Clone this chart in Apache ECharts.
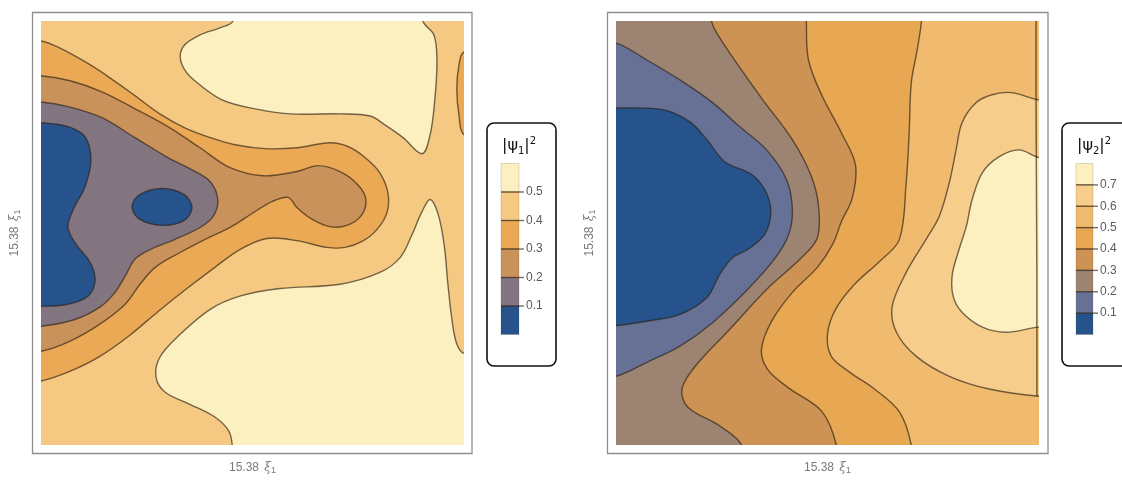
<!DOCTYPE html>
<html>
<head>
<meta charset="utf-8">
<script src="https://cdn.jsdelivr.net/npm/echarts@6/dist/echarts.min.js"></script>
<style>
  html, body { margin: 0; padding: 0; background: #ffffff; }
  #chart { width: 1122px; height: 480px; }
</style>
</head>
<body>
<div id="chart"></div>
<script>
// Contour levels and band colours, lowest band first
const psi1Levels = [0.1, 0.2, 0.3, 0.4, 0.5];
const psi1Colors = ['#26538b', '#827580', '#c9925a', '#eba955', '#f5c982', '#fdf0c0'];
const psi2Levels = [0.1, 0.2, 0.3, 0.4, 0.5, 0.6, 0.7];
const psi2Colors = ['#26538b', '#677196', '#9d8372', '#cd9355', '#e8a752', '#f0bb6e', '#f6cd8b', '#fdf0c0'];

// |psi1|^2 contour lines in the (xi, xi) plane, both axes scaled 0..100
const psi1CreamTop = [[45.4,100],[42.3,98.4],[37.6,96.7],[34.0,94.4],[32.9,91.5],[34.3,88.0],[37.6,84.9],[42.8,81.4],[49.4,79.5],[58.9,78.1],[70.7,78.1],[77.8,77.6],[81.3,75.5],[85.6,72.5],[90.1,68.7],[92.0,73.2],[93.1,81.4],[93.6,90.8],[92.9,96.7],[90.3,100]];
const psi1RightLens = [[100,92.7],[98.8,89.6],[98.3,83.8],[98.8,77.9],[100,73.2]];
const psi1CreamBottom = [[45.2,0],[44.4,3.3],[41.1,6.6],[35.2,9.6],[29.3,12.5],[27.2,16.0],[28.1,20.7],[32.9,26.1],[40.0,32.0],[47.0,35.1],[56.5,36.9],[70.7,37.9],[80.1,40.7],[84.9,44.2],[87.7,49.6],[90.1,55.1],[92.0,57.9],[93.9,54.4],[95.3,47.3],[96.2,37.9],[97.2,29.2],[98.3,23.8],[100,21.6]];
const psi1Below04 = [[0,95.3],[4.5,93.6],[10.9,90.1],[16.3,86.6],[22.2,82.4],[28.1,78.1],[34.0,74.8],[40.0,72.5],[45.9,70.8],[53.0,69.9],[60.5,70.1],[68.3,71.3],[72.6,70.4],[76.6,67.8],[80.1,64.2],[82.0,59.5],[81.8,54.8],[79.4,50.8],[75.9,48.0],[71.9,46.6],[67.6,46.6],[60.5,48.2],[53.4,48.7],[47.0,46.1],[41.1,41.9],[34.5,36.9],[27.7,31.5],[21.0,25.9],[13.9,20.9],[6.9,17.4],[0,15.1]];
const psi1Below03 = [[0,87.1],[6.9,85.9],[14.4,83.3],[22.2,79.3],[30.0,75.1],[37.6,70.1],[44.7,65.4],[52.5,63.5],[60.5,64.5],[65.5,65.9],[70.7,64.5],[74.9,61.4],[76.8,57.9],[75.7,54.1],[72.3,51.8],[68.3,51.5],[63.8,53.4],[60.5,56.0],[58.4,58.4],[54.6,57.4],[49.9,54.6],[44.7,51.3],[38.8,48.5],[32.9,45.4],[27.0,41.9],[23.4,37.9],[19.9,33.2],[13.9,28.5],[6.9,24.5],[0,22.1]];
const psi1Below02 = [[0,80.9],[6.4,79.8],[14.4,77.2],[22.2,72.5],[30.0,67.8],[35.7,64.9],[40.0,62.1],[41.8,57.9],[40.7,53.9],[37.6,51.3],[31.7,48.5],[25.8,46.1],[22.2,43.8],[20.1,40.2],[17.5,36.0],[13.9,32.5],[8.0,29.6],[0,28.0]];
const psi1Below01Edge = [[0,76.0],[6.4,75.1],[10.4,72.7],[11.8,67.3],[10.4,60.9],[7.6,55.5],[6.4,51.3],[8.3,47.3],[11.6,43.1],[12.8,38.8],[11.1,35.1],[6.4,33.2],[0,32.7]];
const psi1Below01Island = [[21.5,56.2],[23.4,59.1],[28.6,60.5],[33.8,59.1],[35.7,56.0],[33.8,52.9],[28.6,51.8],[23.4,53.2]];

// |psi2|^2 contour lines, same scaling
const psi2Above06 = [[100,81.4],[93.6,83.1],[88.9,82.6],[85.1,80.7],[81.8,76.0],[80.4,69.6],[78.8,61.9],[76.4,53.9],[73.3,48.5],[68.6,40.7],[65.3,32.7],[66.3,26.6],[71.0,20.9],[78.8,16.2],[88.2,13.2],[100,11.5]];
const psi2Above07 = [[100,67.8],[95.3,69.6],[90.6,68.0],[86.6,64.2],[84.2,57.9],[82.8,51.5],[81.1,46.1],[79.5,40.2],[79.7,35.1],[81.8,31.3],[86.6,27.8],[92.2,26.6],[100,27.8]];
const psi2Below05 = [[72.2,100],[71.2,93.2],[69.8,85.4],[69.3,73.6],[68.6,61.9],[67.0,48.5],[62.3,43.3],[56.4,37.9],[51.9,32.0],[50.0,26.1],[50.9,20.9],[55.2,17.2],[61.1,13.2],[67.0,7.8],[69.8,0]];
const psi2Below04 = [[45.0,100],[45.5,90.8],[48.6,82.6],[53.3,73.6],[56.6,66.1],[55.9,58.4],[53.3,52.7],[51.2,47.3],[47.6,41.9],[41.7,36.0],[36.8,29.2],[34.4,22.6],[35.8,17.9],[40.6,13.6],[48.6,8.0],[52.1,0]];
const psi2Below03 = [[22.6,100],[23.8,97.2],[28.5,90.1],[34.7,81.4],[41.7,72.0],[46.2,63.3],[47.9,56.2],[47.6,48.9],[43.9,44.2],[35.6,36.7],[26.9,27.3],[18.6,18.4],[15.6,13.2],[17.0,8.9],[24.5,4.5],[29.7,0]];
const psi2Below02 = [[0,94.8],[7.3,90.8],[15.1,86.1],[22.9,80.7],[29.2,75.1],[35.6,69.6],[40.3,62.6],[41.7,55.5],[40.8,49.6],[37.7,44.2],[31.6,37.2],[22.9,28.9],[15.1,23.3],[7.3,19.5],[0,16.2]];
const psi2Below01 = [[0,79.5],[11.1,79.1],[17.5,76.2],[21.5,72.0],[25.7,66.8],[32.1,63.8],[35.4,59.8],[36.6,54.8],[35.1,49.6],[31.1,46.1],[27.6,44.2],[24.5,40.2],[21.5,34.8],[15.1,30.8],[7.3,29.2],[0,28.2]];
const psi2EdgeLine = [[99.3,104],[99.3,81],[99.5,40],[99.5,11.5]];

// Filled regions in painting order: band = colour index, via = frame corners to pass outside the plot
const psi1Regions = [
  { pts: psi1CreamTop, band: 5 },
  { pts: psi1RightLens, band: 3 },
  { pts: psi1CreamBottom, band: 5, via: ['br'] },
  { pts: psi1Below04, band: 3 },
  { pts: psi1Below03, band: 2 },
  { pts: psi1Below02, band: 1 },
  { pts: psi1Below01Edge, band: 0 },
  { pts: psi1Below01Island, band: 0, closed: true }
];
const psi2Regions = [
  { pts: psi2Above06, band: 6 },
  { pts: psi2Above07, band: 7 },
  { pts: psi2Below05, band: 4, via: ['bl', 'tl'] },
  { pts: psi2Below04, band: 3, via: ['bl', 'tl'] },
  { pts: psi2Below03, band: 2, via: ['bl', 'tl'] },
  { pts: psi2Below02, band: 1 },
  { pts: psi2Below01, band: 0 },
  { pts: psi2EdgeLine, line: true }
];

const LINE_COLOR = 'rgba(45, 32, 18, 0.65)';
const OUT = 6;
const CORNERS = { tl: [-OUT, 100 + OUT], tr: [100 + OUT, 100 + OUT], bl: [-OUT, -OUT], br: [100 + OUT, -OUT] };

// push an edge point just outside the frame so the closing path is clipped away
function outside(p) {
  if (p[0] <= 0) return [-OUT, p[1]];
  if (p[0] >= 100) return [100 + OUT, p[1]];
  if (p[1] <= 0) return [p[0], -OUT];
  return [p[0], 100 + OUT];
}

function ring(region) {
  if (region.closed || region.line) return region.pts;
  const pts = region.pts.slice();
  pts.push(outside(pts[pts.length - 1]));
  (region.via || []).forEach(c => pts.push(CORNERS[c]));
  pts.push(outside(region.pts[0]));
  return pts;
}

function contourSeries(regions, colors, idx) {
  return {
    type: 'custom',
    xAxisIndex: idx,
    yAxisIndex: idx,
    clip: true,
    silent: true,
    data: regions.map(() => [50, 50]),
    renderItem: function (params, api) {
      const r = regions[params.dataIndex];
      const points = ring(r).map(p => api.coord(p));
      if (r.line) {
        return { type: 'polyline', shape: { points: points }, style: { fill: 'none', stroke: LINE_COLOR, lineWidth: 1.5 } };
      }
      return {
        type: 'polygon',
        shape: { points: points, smooth: 0.35 },
        style: { fill: colors[r.band], stroke: LINE_COLOR, lineWidth: 1.4, lineJoin: 'round' }
      };
    }
  };
}

// Legend: stacked swatches with tick labels at the level boundaries
function legendGraphic(box, swatch, titleSub, levels, colors) {
  const els = [];
  els.push({ type: 'rect', shape: { x: box.x, y: box.y, width: box.w, height: box.h, r: 7 },
             style: { fill: '#ffffff', stroke: '#111111', lineWidth: 1.6 } });
  els.push({ type: 'text', x: swatch.x + 1, y: box.y + 13,
             style: { text: '|\u03c8{s|' + titleSub + '}|{p|2}', fontSize: 16, lineHeight: 20,
                      fontFamily: 'DejaVu Sans', fill: '#111111',
                      rich: { s: { fontSize: 10, lineHeight: 10, verticalAlign: 'bottom', fill: '#111111', fontFamily: 'DejaVu Sans' },
                              p: { fontSize: 10, lineHeight: 10, verticalAlign: 'top', fill: '#111111', fontFamily: 'DejaVu Sans' } } } });
  const n = colors.length;
  const h = (swatch.bottom - swatch.top) / n;
  for (let i = 0; i < n; i++) {
    els.push({ type: 'rect', shape: { x: swatch.x, y: swatch.top + i * h, width: swatch.w, height: h },
               style: { fill: colors[n - 1 - i], stroke: 'rgba(90,70,40,0.25)', lineWidth: 0.8 } });
  }
  for (let i = 1; i < n; i++) {
    const y = swatch.top + i * h;
    els.push({ type: 'line', shape: { x1: swatch.x, y1: y, x2: swatch.x + swatch.w + 5, y2: y },
               style: { stroke: LINE_COLOR, lineWidth: 1.4 } });
    els.push({ type: 'text', x: swatch.x + swatch.w + 7, y: y,
               style: { text: String(levels[n - 1 - i]), fontSize: 12, fill: '#5a5a5a',
                        fontFamily: 'Liberation Sans, Arial, sans-serif', verticalAlign: 'middle' } });
  }
  return els;
}

const axisName = '15.38 {i|\u03be}{s|1}';
const nameStyle = {
  color: '#7a7a7a', fontSize: 12, lineHeight: 15, fontFamily: 'Liberation Sans, Arial, sans-serif',
  rich: {
    i: { fontStyle: 'italic', fontSize: 12, color: '#7a7a7a', fontFamily: 'DejaVu Serif', padding: [0, 0, 0, 2] },
    s: { fontSize: 9, lineHeight: 9, verticalAlign: 'bottom', color: '#7a7a7a' }
  }
};
function xAx(i) {
  return { gridIndex: i, type: 'value', min: 0, max: 100, name: axisName, nameLocation: 'middle', nameGap: 15,
           nameTextStyle: nameStyle, axisLine: { show: false }, axisTick: { show: false },
           axisLabel: { show: false }, splitLine: { show: false } };
}
function yAx(i) {
  return { gridIndex: i, type: 'value', min: 0, max: 100, name: axisName, nameLocation: 'middle', nameGap: 19,
           nameTextStyle: nameStyle, axisLine: { show: false }, axisTick: { show: false },
           axisLabel: { show: false }, splitLine: { show: false } };
}

const chart = echarts.init(document.getElementById('chart'), null, { renderer: 'canvas' });
chart.setOption({
  animation: false,
  backgroundColor: '#ffffff',
  grid: [
    { left: 41, top: 21, width: 423, height: 425, show: true, backgroundColor: psi1Colors[4], borderWidth: 0 },
    { left: 616, top: 21, width: 423, height: 425, show: true, backgroundColor: psi2Colors[5], borderWidth: 0 }
  ],
  xAxis: [xAx(0), xAx(1)],
  yAxis: [yAx(0), yAx(1)],
  series: [
    contourSeries(psi1Regions, psi1Colors, 0),
    contourSeries(psi2Regions, psi2Colors, 1)
  ],
  graphic: [
    { type: 'rect', shape: { x: 32.5, y: 12.5, width: 439.5, height: 441 }, style: { fill: 'none', stroke: '#8e8e8e', lineWidth: 1.3 } },
    { type: 'rect', shape: { x: 607.5, y: 12.5, width: 440.5, height: 441 }, style: { fill: 'none', stroke: '#8e8e8e', lineWidth: 1.3 } }
  ].concat(
    legendGraphic({ x: 487, y: 123, w: 69, h: 243 }, { x: 501, w: 18, top: 163.5, bottom: 334.5 }, '1', psi1Levels, psi1Colors),
    legendGraphic({ x: 1062, y: 123, w: 80, h: 243 }, { x: 1076, w: 17, top: 163.5, bottom: 334.5 }, '2', psi2Levels, psi2Colors)
  )
});
</script>
</body>
</html>
